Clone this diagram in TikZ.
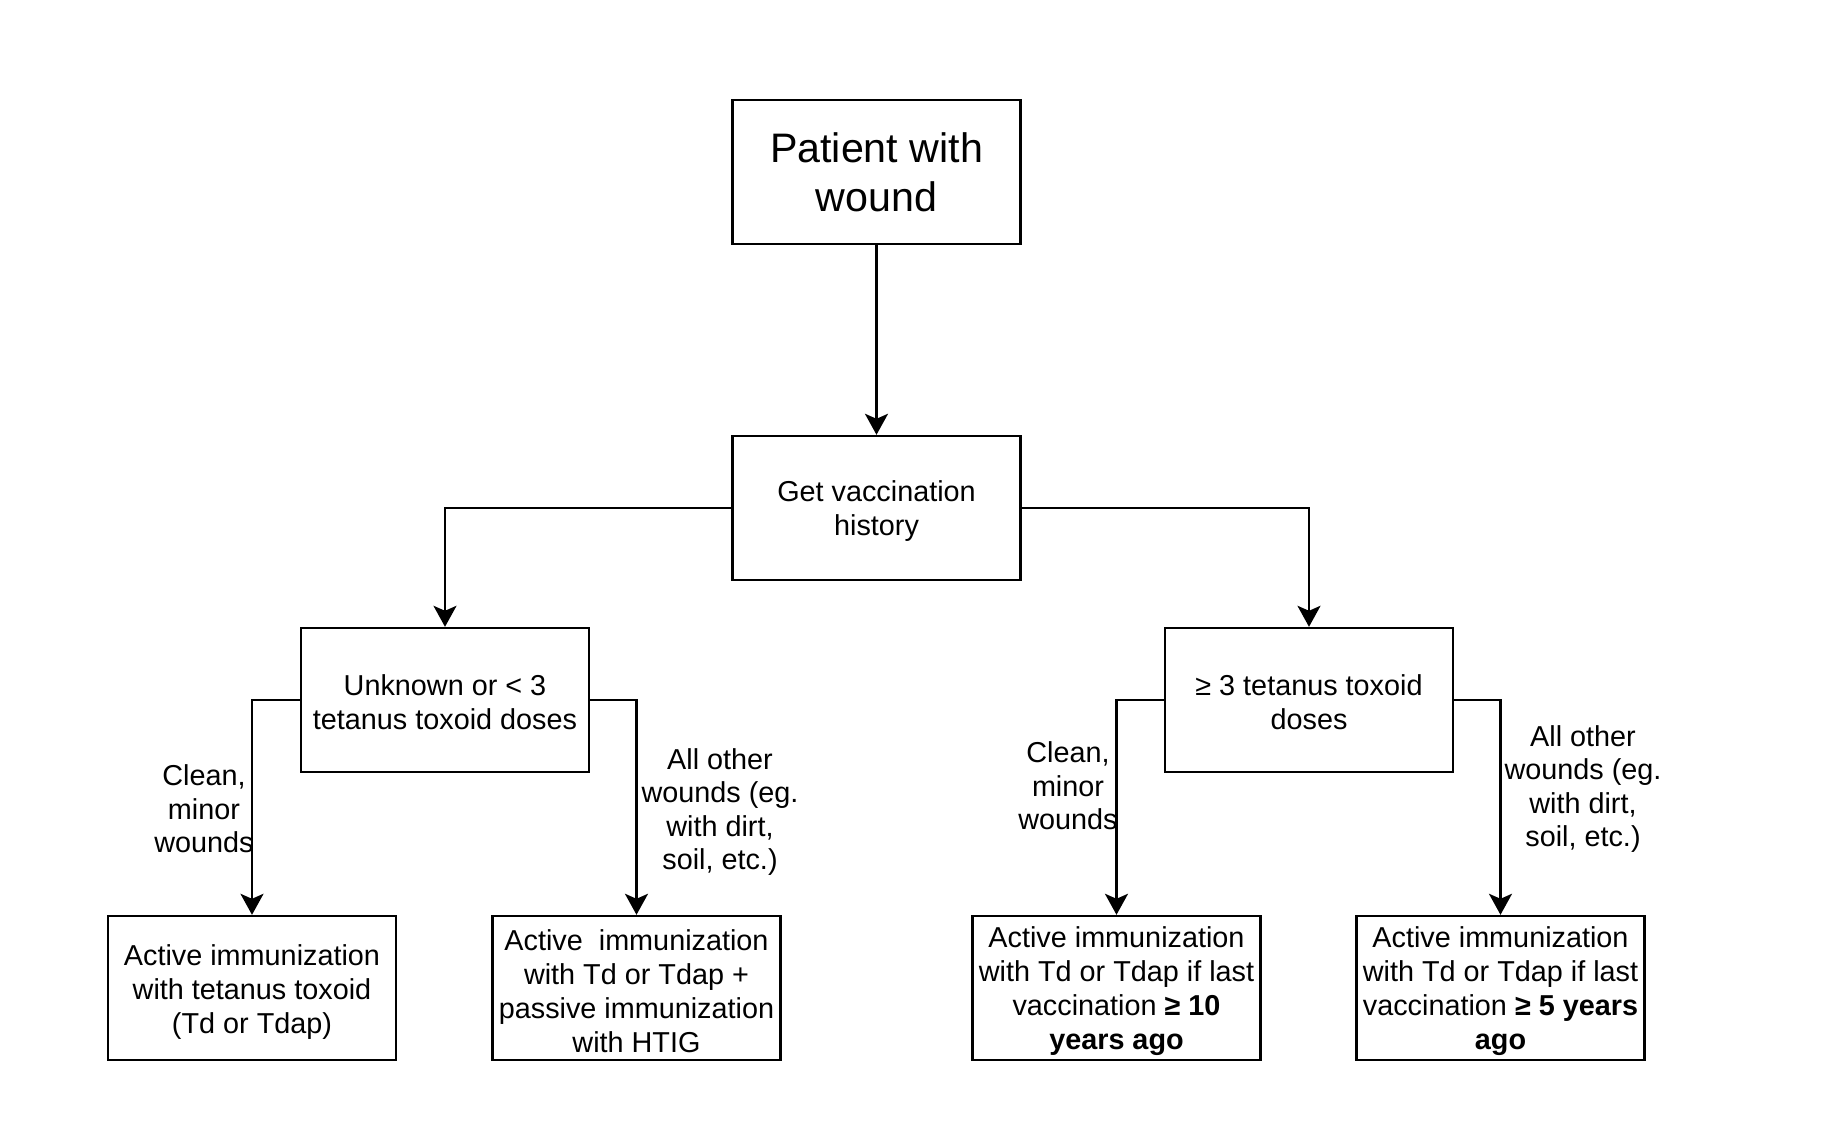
\documentclass[tikz,border=0pt]{standalone}
\usepackage{fontspec}
\setmainfont{Liberation Sans}
\usetikzlibrary{arrows.meta}
\begin{document}
\begin{tikzpicture}[x=0.5pt,y=-0.5pt,
  box/.style={draw=black,line width=1.2pt,minimum width=144pt,minimum height=72pt,inner sep=0pt},
  boxtext/.style={align=center,inner sep=0pt,yshift=-1.6pt,font=\fontsize{14.4pt}{17pt}\selectfont},
  titletext/.style={boxtext,yshift=1.6pt,font=\fontsize{20.6pt}{24.5pt}\selectfont},
  lbl/.style={align=center,inner sep=0pt,font=\fontsize{14.4pt}{16.8pt}\selectfont},
  conn/.style={draw=black,line width=1.2pt,-{Stealth[length=10.5pt,width=11.5pt,inset=2.5pt]}}]
\useasboundingbox[fill=white] (0,0) rectangle (1828,1140);
\node[box] (top) at (876.5,172) {};
\node[titletext] (top-t) at (top) {Patient with\\wound};
\node[box] (vacc) at (876.5,508) {};
\node[boxtext] (vacc-t) at (vacc) {Get vaccination\\history};
\node[box] (unk) at (445,700) {};
\node[boxtext,yshift=0.6pt] (unk-t) at (unk) {Unknown or < 3\\tetanus toxoid doses};
\node[box] (ge) at (1309,700) {};
\node[boxtext,yshift=0.6pt] (ge-t) at (ge) {≥ 3 tetanus toxoid\\doses};
\node[box] (b1) at (252,988) {};
\node[boxtext,yshift=-0.4pt] (b1-t) at (b1) {Active immunization\\with tetanus toxoid\\(Td or Tdap)};
\node[box] (b2) at (636.5,988) {};
\node[boxtext] (b2-t) at (b2) {Active~ immunization\\with Td or Tdap +\\passive immunization\\with HTIG};
\node[box] (b3) at (1116.5,988) {};
\node[boxtext] (b3-t) at (b3) {Active immunization\\with Td or Tdap if last\\vaccination \textbf{≥ 10}\\\textbf{years ago}};
\node[box] (b4) at (1500.5,988) {};
\node[boxtext] (b4-t) at (b4) {Active immunization\\with Td or Tdap if last\\vaccination \textbf{≥ 5 years}\\\textbf{ago}};
\draw[conn] (top) -- (vacc);
\draw[conn] (vacc.west) -| (unk.north);
\draw[conn] (vacc.east) -| (ge.north);
\draw[conn] (unk.west) -| (b1.north);
\draw[conn] (unk.east) -| (b2.north);
\draw[conn] (ge.west) -| (b3.north);
\draw[conn] (ge.east) -| (b4.north);
\node[lbl] (l1) at (204,809) {Clean,\\minor\\wounds};
\node[lbl] (l2) at (720,812) {All other\\wounds (eg.\\with dirt,\\soil, etc.)};
\node[lbl] (l3) at (1068,786) {Clean,\\minor\\wounds};
\node[lbl] (l4) at (1583,789) {All other\\wounds (eg.\\with dirt,\\soil, etc.)};
\end{tikzpicture}
\end{document}
